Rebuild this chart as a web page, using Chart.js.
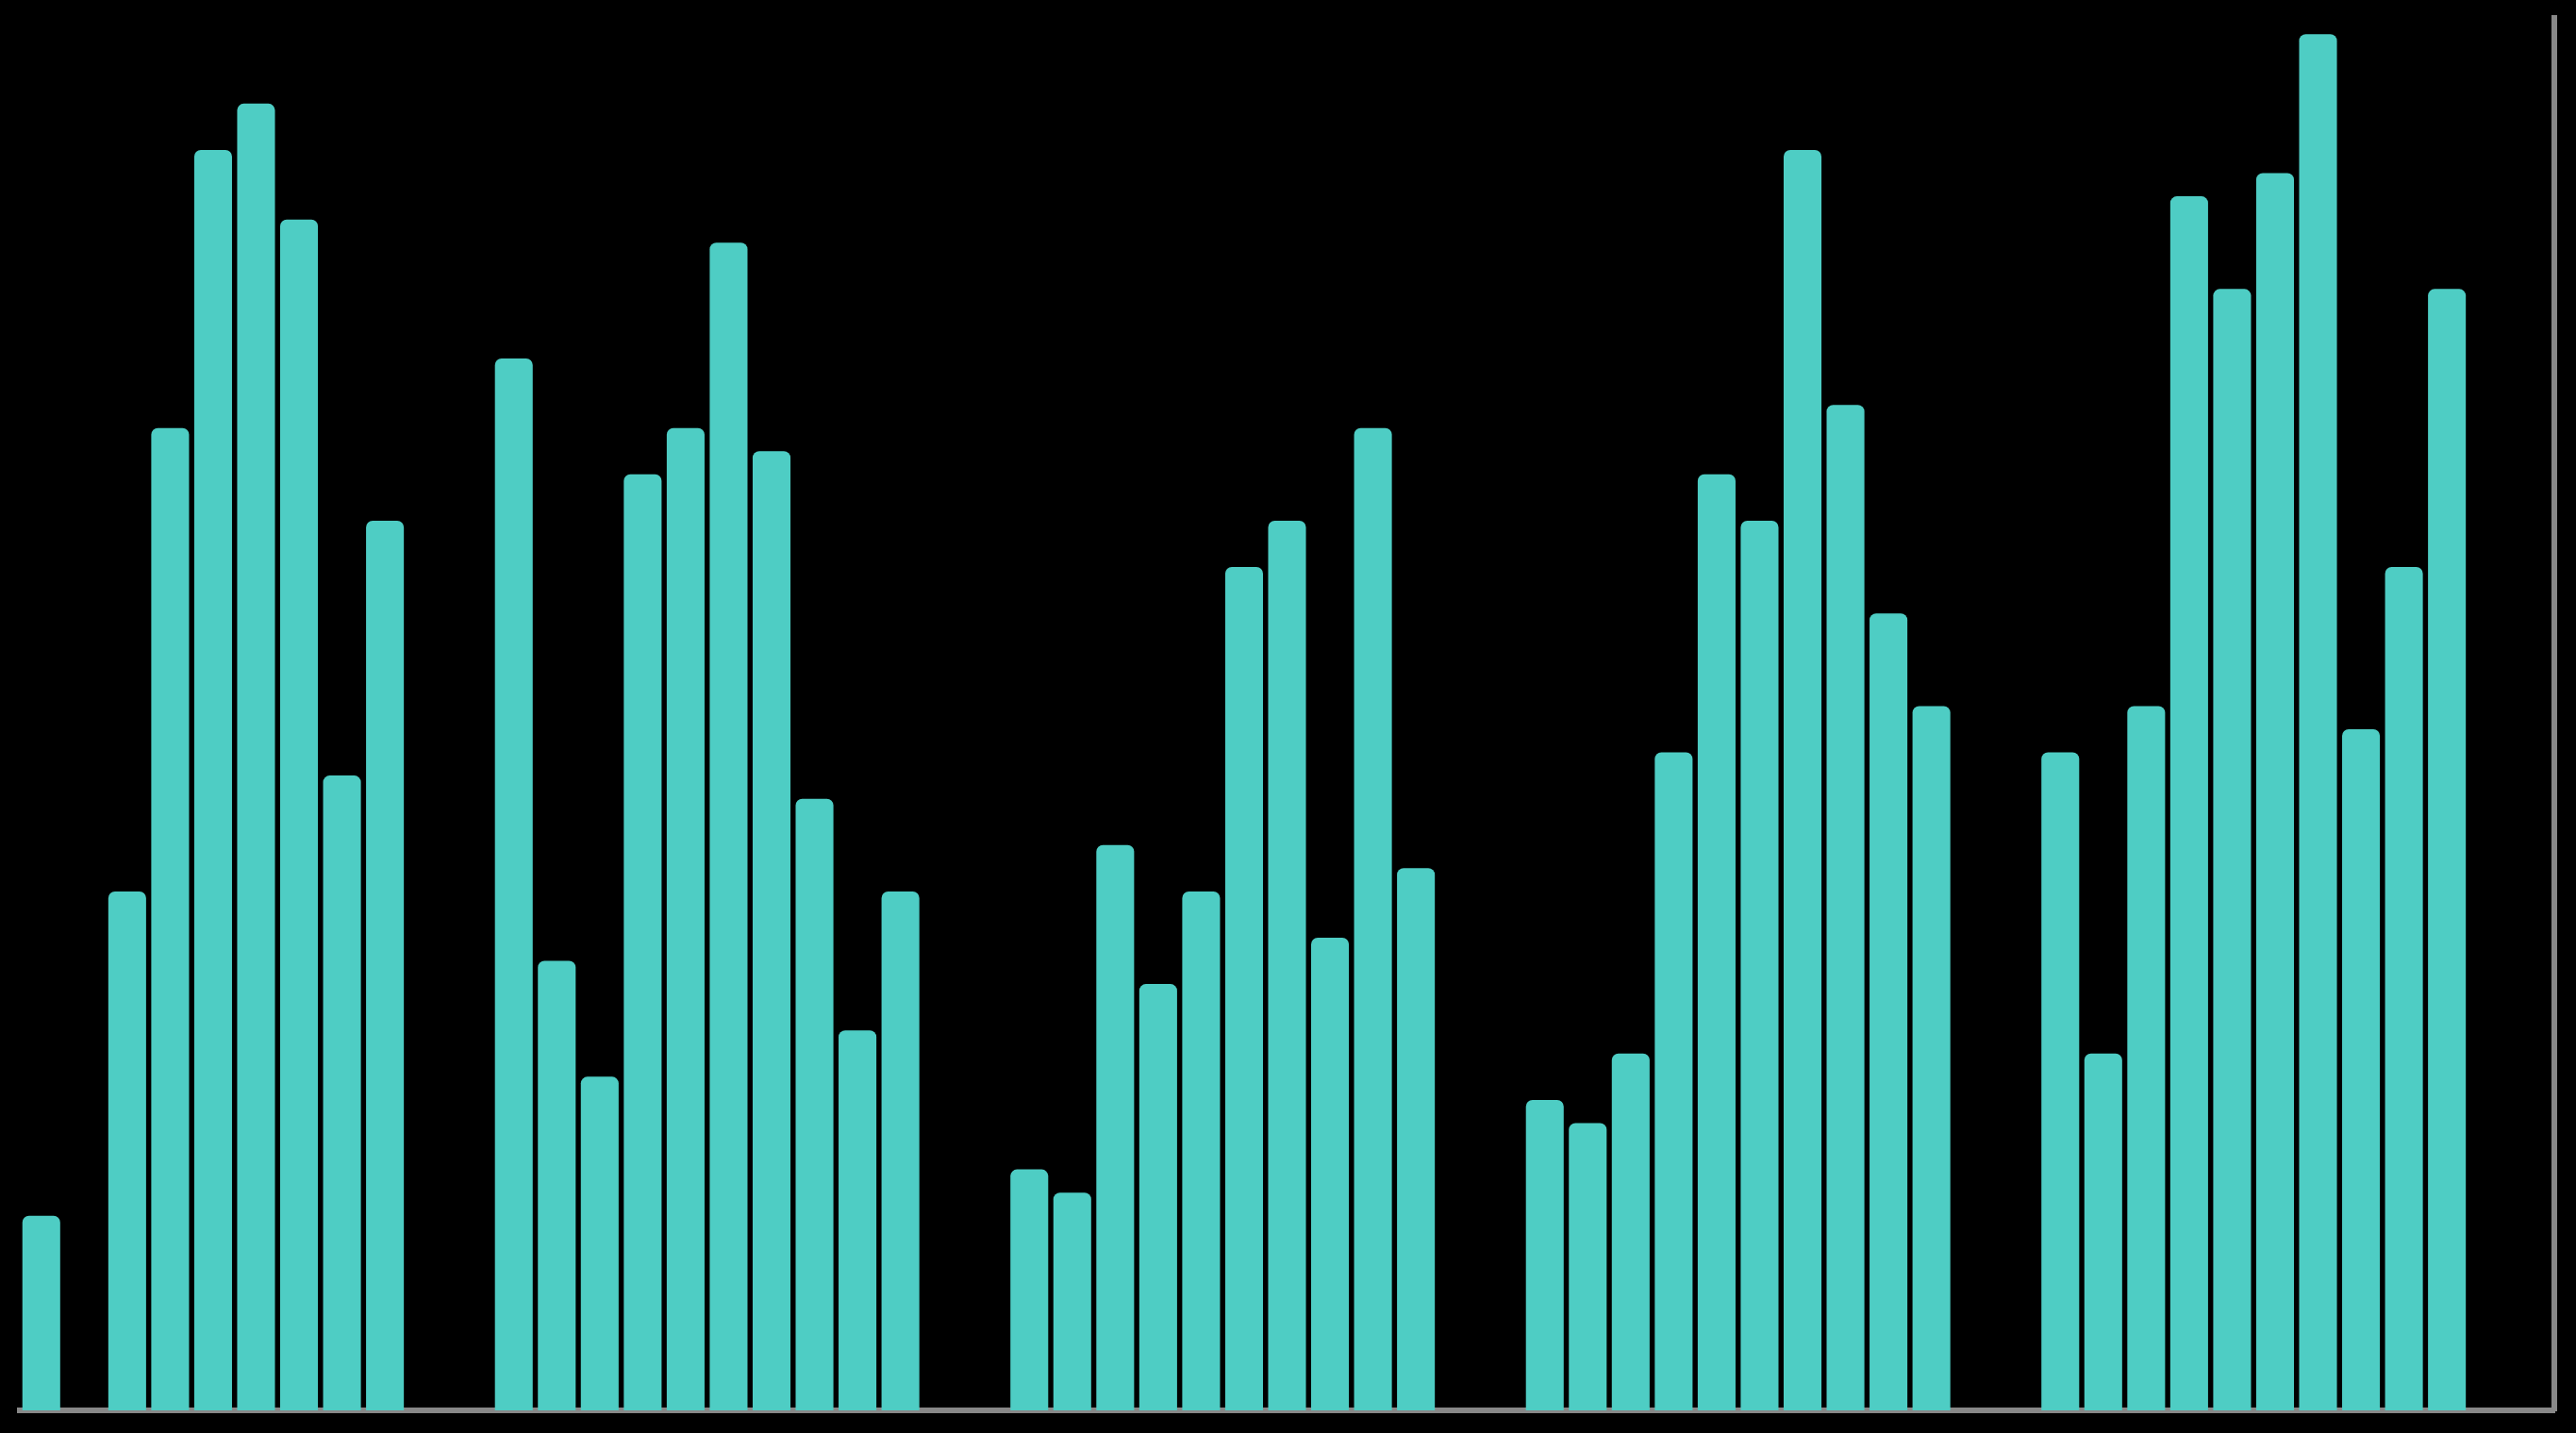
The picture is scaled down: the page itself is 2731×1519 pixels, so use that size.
<!DOCTYPE html>
<html>
<head>
<meta charset="utf-8">
<title>Bars</title>
<script src="https://cdn.jsdelivr.net/npm/chart.js@4.4.1/dist/chart.umd.min.js"></script>
<style>
    html, body { margin: 0; padding: 0; background: #000; }
    #wrap { width: 2731px; height: 1519px; position: relative; }
</style>
</head>
<body>
<div id="wrap"><canvas id="bars"></canvas></div>
<script>
// values per group (null = empty slot)
const groupA = [8, null, 22, 42, 54, 56, 51, 27, 38];
const groupB = [45, 19, 14, 40, 42, 50, 41, 26, 16, 22];
const groupC = [10, 9, 24, 18, 22, 36, 38, 20, 42, 23];
const groupD = [13, 12, 15, 28, 40, 38, 54, 43, 34, 30];
const groupE = [28, 15, 30, 52, 48, 53, 59, 29, 36, 48];
const gap = [null, null];

const values = [...groupA, ...gap, ...groupB, ...gap, ...groupC, ...gap, ...groupD, ...gap, ...groupE, ...gap];
const labels = values.map((v, i) => String(i + 1));

const barColor = '#4ECDC4';
const axisColor = '#888888';

new Chart(document.getElementById('bars'), {
    type: 'bar',
    data: {
        labels: labels,
        datasets: [{
            data: values,
            backgroundColor: barColor,
            borderWidth: 0,
            borderRadius: 7,
            borderSkipped: 'start',
            base: -0.55,
            categoryPercentage: 1,
            barPercentage: 0.88
        }]
    },
    options: {
        responsive: true,
        maintainAspectRatio: false,
        animation: false,
        layout: {
            padding: { left: 21, top: 19, right: 23, bottom: 24 }
        },
        plugins: {
            legend: { display: false },
            tooltip: { enabled: false }
        },
        scales: {
            x: {
                grid: { display: false, drawTicks: false },
                ticks: { display: false },
                border: { display: true, color: axisColor, width: 6 }
            },
            y: {
                position: 'right',
                min: -0.4,
                max: 59.7,
                grid: { display: false, drawTicks: false },
                ticks: { display: false },
                border: { display: true, color: axisColor, width: 6 }
            }
        }
    }
});
</script>
</body>
</html>
